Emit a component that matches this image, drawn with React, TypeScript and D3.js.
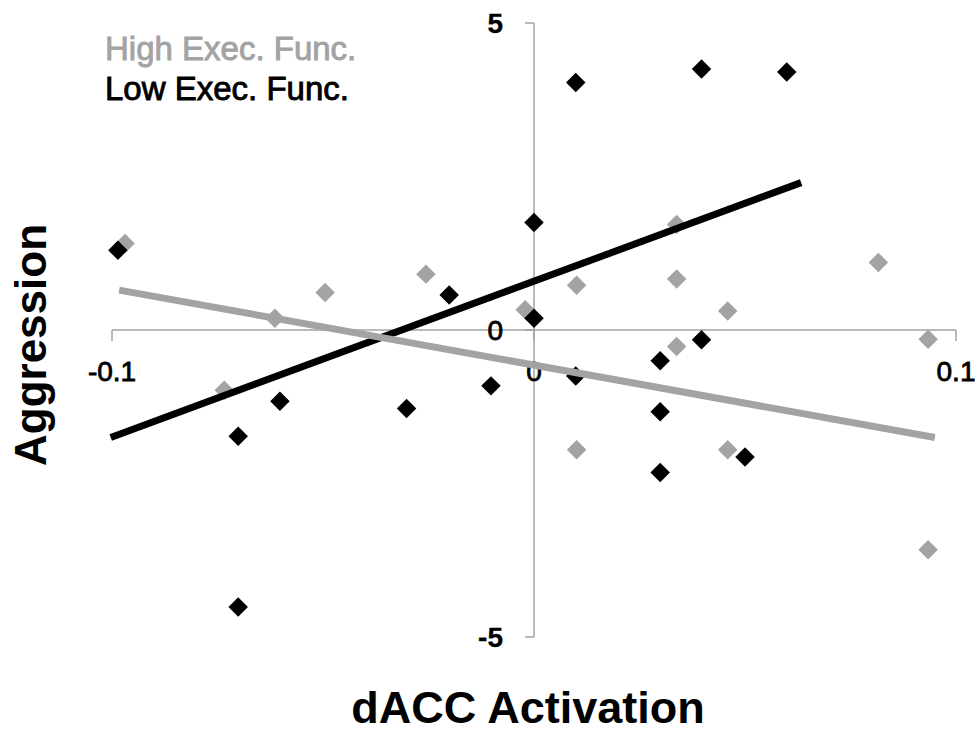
import React from "react";
import * as d3 from "d3";

const highX = [-0.0969, -0.0734, -0.0614, -0.0495, -0.0256, -0.0021, 0.0101, 0.0101, 0.0338, 0.0338, 0.0338, 0.0459, 0.0459, 0.0816, 0.0934, 0.0934];
const highY = [1.41, -0.98, 0.19, 0.61, 0.91, 0.33, 0.73, -1.95, 1.72, 0.83, -0.27, 0.31, -1.95, 1.1, -0.15, -3.58];
const lowX = [-0.0986, -0.0701, -0.0701, -0.0602, -0.0302, -0.0201, -0.0102, 0.0, 0.0, 0.0099, 0.0099, 0.0299, 0.0299, 0.0299, 0.0397, 0.0397, 0.05, 0.0599];
const lowY = [1.3, -1.73, -4.51, -1.16, -1.28, 0.57, -0.91, 1.75, 0.19, 4.03, -0.75, -0.5, -1.33, -2.32, 4.25, -0.16, -2.07, 4.2];
const lowTrendX = [-0.1003, 0.0633];
const lowTrendY = [-1.75, 2.4];
const highTrendX = [-0.0983, 0.095];
const highTrendY = [0.65, -1.75];
const xTicks = [-0.1, 0, 0.1];
const xTickLabels = ["-0.1", "0", "0.1"];
const yTicks = [5, 0, -5];
const yTickLabels = ["5", "0", "-5"];
const seriesNames = ["High Exec. Func.", "Low Exec. Func."];

const GRAY = "#a3a3a3";
const FONT = "'Liberation Sans', Arial, sans-serif";

export default function App() {
  const x = d3.scaleLinear().domain([-0.1, 0.1]).range([112, 956]);
  const y = d3.scaleLinear().domain([-5, 5]).range([637, 23]);
  const diamond = d3.symbol(d3.symbolSquare, 190)();
  const line = d3.line<[number, number]>().x((d) => x(d[0])).y((d) => y(d[1]));
  const highPts = highX.map((v, i) => [v, highY[i]] as [number, number]);
  const lowPts = lowX.map((v, i) => [v, lowY[i]] as [number, number]);
  const lowTrend = lowTrendX.map((v, i) => [v, lowTrendY[i]] as [number, number]);
  const highTrend = highTrendX.map((v, i) => [v, highTrendY[i]] as [number, number]);
  const x0 = x(0);
  const y0 = y(0);
  return (
    <svg width={979} height={734} style={{ position: "absolute", left: 0, top: 0, background: "#fff" }} fontFamily={FONT}>
      {/* axes */}
      <line x1={x(-0.1)} x2={x(0.1)} y1={y0} y2={y0} stroke={GRAY} strokeWidth={1.5} />
      <line x1={x0} x2={x0} y1={y(5)} y2={y(-5)} stroke={GRAY} strokeWidth={1.5} />
      {xTicks.map((t) => (
        <line key={"xt" + t} x1={x(t)} x2={x(t)} y1={y0} y2={y0 + 11} stroke={GRAY} strokeWidth={1.5} />
      ))}
      {yTicks.map((t) => (
        <line key={"yt" + t} x1={x0 - 9} x2={x0} y1={y(t)} y2={y(t)} stroke={GRAY} strokeWidth={1.5} />
      ))}
      {xTicks.map((t, i) => (
        <text key={"xl" + t} x={x(t)} y={y0 + 51} textAnchor="middle" fontSize={28} fill="#000" stroke="#000" strokeWidth={0.8}>
          {xTickLabels[i]}
        </text>
      ))}
      {yTicks.map((t, i) => (
        <text key={"yl" + t} x={503} y={y(t) + 10} textAnchor="end" fontSize={28} fontWeight={t === 0 ? "normal" : "bold"} fill="#000" stroke="#000" strokeWidth={t === 0 ? 0.8 : 0.3}>
          {yTickLabels[i]}
        </text>
      ))}
      {/* markers */}
      {highPts.map((p, i) => (
        <path key={"h" + i} d={diamond} transform={`translate(${x(p[0])},${y(p[1])}) rotate(45)`} fill={GRAY} />
      ))}
      {lowPts.map((p, i) => (
        <path key={"l" + i} d={diamond} transform={`translate(${x(p[0])},${y(p[1])}) rotate(45)`} fill="#000" />
      ))}
      {/* trendlines */}
      <path d={line(lowTrend) || ""} stroke="#000" strokeWidth={7} fill="none" />
      <path d={line(highTrend) || ""} stroke={GRAY} strokeWidth={7} fill="none" />
      {/* legend */}
      <text x={105} y={60} fontSize={33} fill={GRAY} stroke={GRAY} strokeWidth={0.9}>{seriesNames[0]}</text>
      <text x={105} y={100} fontSize={33} fill="#000" stroke="#000" strokeWidth={0.9}>{seriesNames[1]}</text>
      {/* axis titles */}
      <text x={528} y={723} textAnchor="middle" fontSize={45} fontWeight="bold" fill="#000">dACC Activation</text>
      <text transform="translate(46,345) rotate(-90)" textAnchor="middle" fontSize={44} fontWeight="bold" fill="#000">Aggression</text>
    </svg>
  );
}
